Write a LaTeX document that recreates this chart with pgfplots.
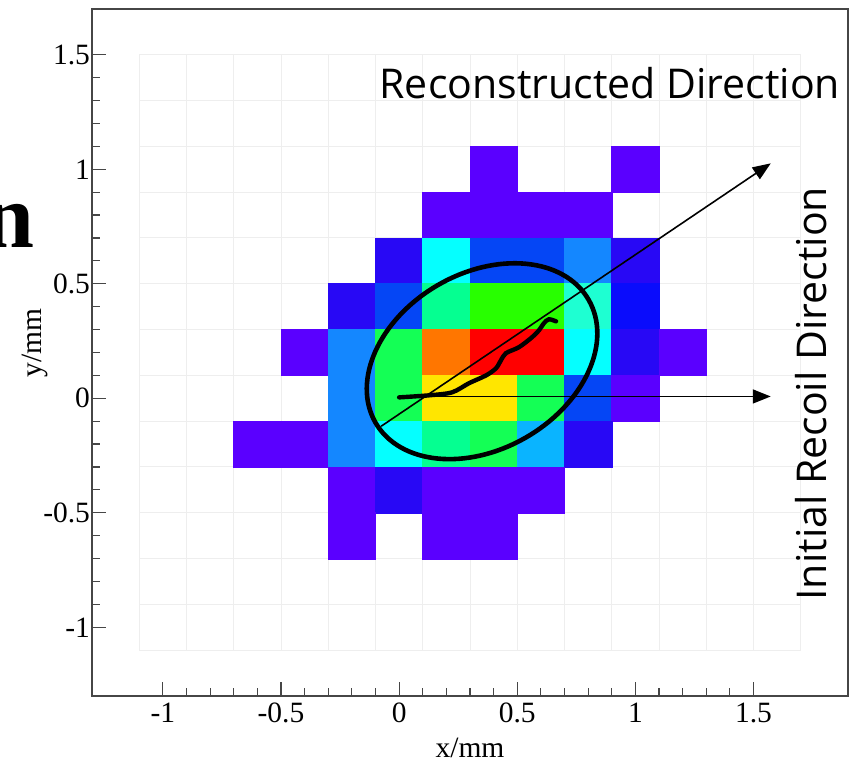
\documentclass[border=0pt]{standalone}
\usepackage{pgfplots}
\pgfplotsset{compat=1.18}
\usepackage{pgfplotstable}
\usetikzlibrary{arrows.meta}
\usepackage{fontspec}
\setmainfont{Liberation Serif}
\newfontfamily\annfont{Open Sans}
\definecolor{gridc}{RGB}{238,238,238}
\definecolor{framec}{RGB}{70,70,70}
\pgfdeclareplotmark{cell}{\pgfpathrectangle{\pgfpoint{-11.9bp}{-11.55bp}}{\pgfpoint{23.8bp}{23.1bp}}\pgfusepathqfillstroke}
\pgfplotstableread{
x y c
0.4 1.0 1
1.0 1.0 1
0.2 0.8 1
0.4 0.8 1
0.6 0.8 1
0.8 0.8 1
0.0 0.6 2
0.2 0.6 7
0.4 0.6 4
0.6 0.6 4
0.8 0.6 5
1.0 0.6 2
-0.2 0.4 2
0.0 0.4 4
0.2 0.4 9
0.4 0.4 11
0.6 0.4 11
0.8 0.4 8
1.0 0.4 3
-0.4 0.2 1
-0.2 0.2 5
0.0 0.2 10
0.2 0.2 13
0.4 0.2 14
0.6 0.2 14
0.8 0.2 7
1.0 0.2 2
1.2 0.2 1
-0.2 0.0 5
0.0 0.0 10
0.2 0.0 12
0.4 0.0 12
0.6 0.0 10
0.8 0.0 4
1.0 0.0 1
-0.6 -0.2 1
-0.4 -0.2 1
-0.2 -0.2 5
0.0 -0.2 7
0.2 -0.2 9
0.4 -0.2 10
0.6 -0.2 6
0.8 -0.2 2
-0.2 -0.4 1
0.0 -0.4 2
0.2 -0.4 1
0.4 -0.4 1
0.6 -0.4 1
-0.2 -0.6 1
0.2 -0.6 1
0.4 -0.6 1
}\cells
\begin{document}
\begin{tikzpicture}
\begin{axis}[
  set layers=standard,
  at={(0,0)}, anchor=south west,
  x=118.125bp, y=114.5bp,
  xmin=-1.3, xmax=1.9, ymin=-1.3, ymax=1.7,
  xtick={-1,-0.5,0,0.5,1,1.5}, ytick={-1,-0.5,0,0.5,1,1.5},
  minor x tick num=4, minor y tick num=4,
  tick pos=left, tick align=inside,
  major tick length=7bp, minor tick length=4bp,
  every tick/.style={framec, line width=0.6bp},
  axis line style={framec, line width=0.8bp},
  /pgf/number format/assume math mode=true,
  tick label style={font=\fontsize{14.8}{16}\selectfont},
  yticklabel style={xshift=2.5bp},
  xlabel={x/mm}, ylabel={y/mm},
  label style={font=\fontsize{14.8}{16}\selectfont},
  xlabel style={at={(rel axis cs:0.5,-0.0902)}, anchor=base},
  ylabel style={at={(rel axis cs:-0.0754,0.514)}, anchor=center},
  colormap={root}{rgb255=(90,0,255) rgb255=(40,8,245) rgb255=(10,12,252) rgb255=(5,70,245) rgb255=(20,135,255) rgb255=(10,180,255) rgb255=(5,255,255) rgb255=(30,255,210) rgb255=(5,255,145) rgb255=(20,255,85) rgb255=(40,255,0) rgb255=(255,230,0) rgb255=(255,118,0) rgb255=(255,0,0)},
  point meta min=1, point meta max=14,
  clip=false,
]
\begin{pgfonlayer}{axis background}
\pgfplotsinvokeforeach{-1.1,-0.9,-0.7,-0.5,-0.3,-0.1,0.1,0.3,0.5,0.7,0.9,1.1,1.3,1.5,1.7}{
  \draw[gridc, line width=0.5bp] (axis cs:#1,-1.1) -- (axis cs:#1,1.5);
}
\pgfplotsinvokeforeach{-1.1,-0.9,-0.7,-0.5,-0.3,-0.1,0.1,0.3,0.5,0.7,0.9,1.1,1.3,1.5}{
  \draw[gridc, line width=0.5bp] (axis cs:-1.1,#1) -- (axis cs:1.7,#1);
}
\end{pgfonlayer}
\addplot[scatter, only marks, mark=cell, mark layer=pre main,
  scatter/use mapped color={draw=mapped color, fill=mapped color},
  mark options={line width=0.2bp},
  point meta=explicit] table[x=x, y=y, meta=c] {\cells};
% hand-drawn track
\addplot[on layer=axis foreground, black, no markers, smooth, line width=2.2bp, line cap=round] coordinates {
(0,0.004) (0.127,0.013) (0.224,0.026) (0.296,0.066) (0.368,0.100) (0.410,0.131)
(0.431,0.166) (0.452,0.197) (0.507,0.223) (0.562,0.266) (0.592,0.297)
(0.613,0.328) (0.634,0.345) (0.664,0.336)};
% arrows
\addplot[on layer=axis foreground, black, no markers, line width=0.8bp, -{Triangle[length=9bp,width=7bp]}]
  coordinates {(-0.076,-0.122) (1.573,1.026)};
\addplot[on layer=axis foreground, black, no markers, line width=0.8bp, -{Triangle[length=9bp,width=7bp]}]
  coordinates {(0,0.008) (1.573,0.008)};
\begin{pgfonlayer}{axis foreground}
\draw[black, line width=2.3bp, rotate around={30:(axis cs:0.351,0.162)}]
  (axis cs:0.351,0.162) ellipse [x radius=61.5bp, y radius=44bp];
\node[anchor=base, inner sep=0pt, font=\annfont\fontsize{20.6}{24}\selectfont]
  at (rel axis cs:0.685,0.869) {Reconstructed Direction};
\node[anchor=base, inner sep=0pt, rotate=90, font=\annfont\fontsize{20.6}{24}\selectfont]
  at (rel axis cs:0.972,0.440) {Initial Recoil Direction};
\end{pgfonlayer}
\end{axis}
\node[anchor=base east, inner sep=0pt, font=\bfseries\fontsize{46}{50}\selectfont] at (-28.5bp,224bp) {n};
\pgfresetboundingbox
\path (-46bp,-33bp) rectangle (379.5bp,348bp);
\end{tikzpicture}
\end{document}
